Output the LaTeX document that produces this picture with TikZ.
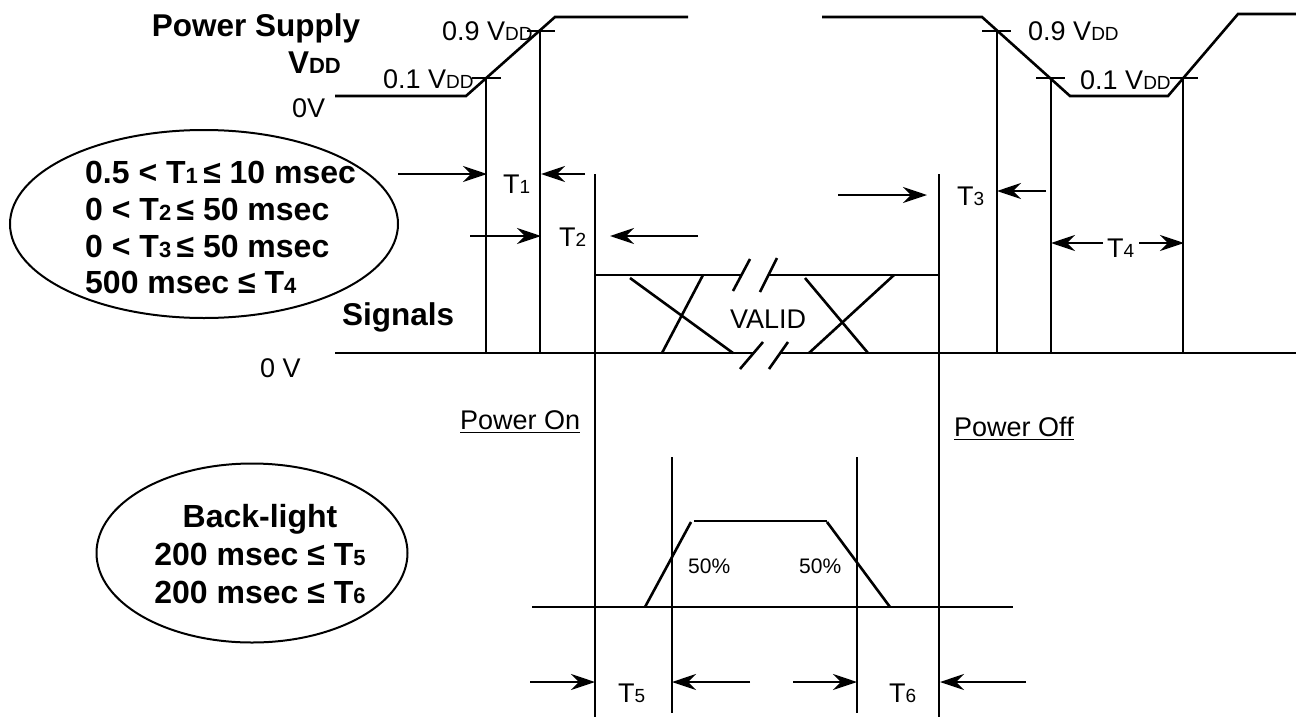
\documentclass[tikz,border=0pt]{standalone}
\usepackage{fontspec}
\setmainfont{Liberation Sans}
\usetikzlibrary{arrows.meta,shapes.geometric}
\newcommand{\lo}[1]{{\fontsize{19}{19}\selectfont #1}}
\newcommand{\blo}[1]{{\fontsize{22}{22}\selectfont #1}}
\begin{document}
\begin{tikzpicture}[x=1pt,y=-1pt,
  wave/.style={line width=2.6pt, line join=miter},
  vline/.style={line width=2.6pt},
  tick/.style={line width=2.6pt},
  arr/.style={-{Stealth[length=24pt,width=16pt,inset=8pt]}, line width=2.6pt},
  lbl/.style={inner sep=0pt, anchor=base west, font=\fontsize{27}{27}\selectfont},
  slbl/.style={inner sep=0pt, anchor=base west, font=\fontsize{21}{21}\selectfont},
  blbl/.style={inner sep=0pt, anchor=base west, font=\bfseries\fontsize{32}{32}\selectfont},
  oval/.style={draw, ellipse, line width=2pt, inner sep=0pt}]
\useasboundingbox (0,0) rectangle (1296,718);

% ---------- Power supply waveform ----------
\draw[wave] (335,96) -- (466,96) -- (555,17) -- (688,17);
\draw[wave] (822,17) -- (982,17) -- (1070,96) -- (1168,96) -- (1238,14) -- (1296,14);
% ticks
\draw[tick] (472,78) -- (501,78);
\draw[tick] (527,31) -- (555,31);
\draw[tick] (982,31) -- (1011,31);
\draw[tick] (1036,78) -- (1065,78);
\draw[tick] (1170,78) -- (1198,78);
% labels
\node[lbl] (l09a) at (442,40) {0.9 V\lo{DD}};
\node[lbl] (l01a) at (383,88) {0.1 V\lo{DD}};
\node[lbl] (l09b) at (1028,40) {0.9 V\lo{DD}};
\node[lbl] (l01b) at (1080,89) {0.1 V\lo{DD}};
\node[inner sep=0pt, anchor=base, font=\bfseries\fontsize{31.5}{31.5}\selectfont] (ps) at (256,36) {Power Supply};
\node[inner sep=0pt, anchor=base east, font=\bfseries\fontsize{31.5}{31.5}\selectfont] (vdd) at (341,73) {V\blo{DD}};
\node[lbl] (zv1) at (292,117) {0V};

% ---------- vertical markers ----------
\draw[vline] (486,78) -- (486,353);
\draw[vline] (540,31) -- (540,353);
\draw[vline] (595,174) -- (595,717);
\draw[vline] (939,174) -- (939,717);
\draw[vline] (997,31) -- (997,353);
\draw[vline] (1051,78) -- (1051,353);
\draw[vline] (1183,78) -- (1183,353);

% ---------- Signals ----------
\draw[wave] (335,353) -- (754,353);
\draw[wave] (780,353) -- (1296,353);
\draw[wave] (595,275) -- (741,275);
\draw[wave] (769,275) -- (939,275);
\draw[wave] (733,291) -- (750,259);
\draw[wave] (760,292) -- (777,258);
\draw[wave] (740,369) -- (763,342);
\draw[wave] (769,369) -- (788,342);
\draw[wave] (630,278) -- (733,353);
\draw[wave] (662,353) -- (703,275);
\draw[wave] (805,278) -- (868,353);
\draw[wave] (809,353) -- (894,275);
\node[lbl] (valid) at (730,328) {VALID};
\node[blbl, font=\bfseries\fontsize{31.5}{31.5}\selectfont] (sig) at (342,325) {Signals};
\node[lbl] (zv2) at (260,377) {0 V};

% ---------- timing arrows T1..T4 ----------
\draw[arr] (398,174) -- (487,174);
\draw[arr] (585,174) -- (541,174);
\node[lbl] (t1) at (503,193) {T\lo{1}};
\draw[arr] (470,236) -- (541,236);
\draw[arr] (698,236) -- (610,236);
\node[lbl] (t2) at (559,246) {T\lo{2}};
\draw[arr] (838,195) -- (927,195);
\draw[arr] (1046,191) -- (997,191);
\node[lbl] (t3) at (957,205) {T\lo{3}};
\draw[arr] (1103,243) -- (1051,243);
\draw[arr] (1139,243) -- (1184,243);
\node[lbl] (t4) at (1107,257) {T\lo{4}};

% ---------- condition ellipse 1 ----------
\node[oval, minimum width=388pt, minimum height=188pt] (cond1) at (204,224) {};
\node[blbl] (c1) at (85,183) {0.5 < T\blo{1}\,≤ 10 msec};
\node[blbl] (c2) at (85,220) {0 < T\blo{2}\,≤ 50 msec};
\node[blbl] (c3) at (85,257) {0 < T\blo{3}\,≤ 50 msec};
\node[blbl] (c4) at (85,293) {500 msec ≤ T\blo{4}};

% ---------- Power on / off ----------
\node[lbl] (pon) at (460,429) {Power On};
\draw[line width=1.5pt] ([yshift=-3.5pt]pon.base west) -- ([yshift=-3.5pt]pon.base east);
\node[lbl] (poff) at (954,436) {Power Off};
\draw[line width=1.5pt] ([yshift=-3.5pt]poff.base west) -- ([yshift=-3.5pt]poff.base east);

% ---------- Back-light ----------
\draw[wave] (532,607) -- (1013,607);
\draw[wave] (645,607) -- (691,522);
\draw[wave] (694,521) -- (827,521);
\draw[wave] (827,522) -- (890,607);
\draw[vline] (672,457) -- (672,713);
\draw[vline] (857,457) -- (857,713);
\node[slbl] (p50a) at (688,573) {50\%};
\node[slbl] (p50b) at (799,573) {50\%};
\draw[arr] (530,682) -- (595,682);
\draw[arr] (750,682) -- (672,682);
\draw[arr] (793,682) -- (857,682);
\draw[arr] (1026,682) -- (940,682);
\node[lbl] (t5) at (618,702) {T\lo{5}};
\node[lbl] (t6) at (889,702) {T\lo{6}};

% ---------- condition ellipse 2 ----------
\node[oval, minimum width=311pt, minimum height=179pt] (cond2) at (252,553) {};
\node[blbl, anchor=base] (b1) at (260,527) {Back-light};
\node[blbl, anchor=base] (b2) at (260,565) {200 msec ≤ T\blo{5}};
\node[blbl, anchor=base] (b3) at (260,603) {200 msec ≤ T\blo{6}};
\end{tikzpicture}
\end{document}
